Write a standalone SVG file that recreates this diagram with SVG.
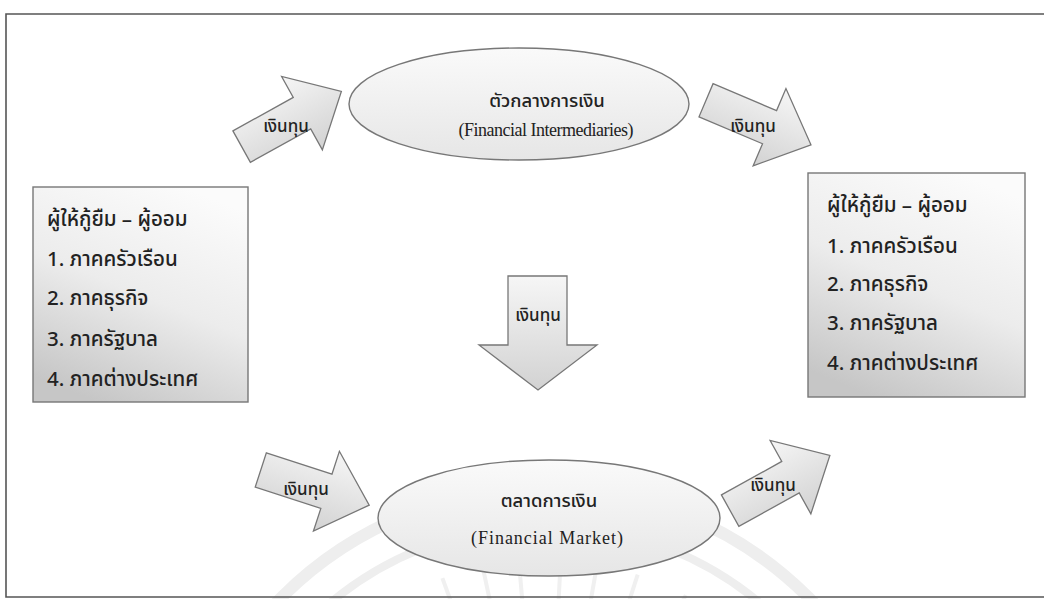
<svg xmlns="http://www.w3.org/2000/svg" xmlns:xlink="http://www.w3.org/1999/xlink" width="1044" height="599" viewBox="0 0 1044 599">
  <style>
    .frame { fill: none; stroke: #555; stroke-width: 1.6; }
    .box { fill: url(#boxGrad); stroke: #777; stroke-width: 1.4; }
    .oval { fill: url(#ovalGrad); stroke: #777; stroke-width: 1.4; }
    .arrow { fill: url(#arrowGrad); stroke: #777; stroke-width: 1.3; stroke-linejoin: miter; }
    .th { font-family: Tahoma, "Noto Sans Thai", "Noto Sans", "DejaVu Sans", sans-serif; fill: #222; font-weight: 500; }
    .en { font-family: "Liberation Serif", "Times New Roman", serif; fill: #222; }
    .boxtext { font-size: 20.5px; }
    .ovalth { font-size: 18.5px; }
    .ovalen { font-size: 18px; }
    .arrowtext { font-size: 17px; text-anchor: middle; }
    .wm { fill: none; stroke: #eeeeee; }
  </style>
  <defs>
    <linearGradient id="boxGrad" x1="0.7" y1="0" x2="0.3" y2="1">
      <stop offset="0" stop-color="#fbfbfb"/>
      <stop offset="0.5" stop-color="#ececec"/>
      <stop offset="1" stop-color="#c6c6c6"/>
    </linearGradient>
    <linearGradient id="ovalGrad" x1="0" y1="0" x2="0" y2="1">
      <stop offset="0" stop-color="#fafafa"/>
      <stop offset="1" stop-color="#e6e6e6"/>
    </linearGradient>
    <linearGradient id="arrowGrad" x1="0" y1="0" x2="0" y2="1">
      <stop offset="0" stop-color="#f6f6f6"/>
      <stop offset="1" stop-color="#d2d2d2"/>
    </linearGradient>
    <path id="diagArrow" d="M-57,-18 L12,-18 L12,-42 L57,0 L12,42 L12,18 L-57,18 Z"/>
  </defs>

  <rect width="1044" height="599" fill="#ffffff"/>

  <!-- faint watermark -->
  <g id="watermark">
    <circle class="wm" cx="545" cy="860" r="372" stroke-width="12"/>
    <circle class="wm" cx="545" cy="860" r="335" stroke-width="8"/>
    <g stroke="#f0f0f0" stroke-width="4">
      <line x1="545" y1="860" x2="545" y2="560" transform="rotate(-30 545 860)"/>
      <line x1="545" y1="860" x2="545" y2="560" transform="rotate(-20 545 860)"/>
      <line x1="545" y1="860" x2="545" y2="560" transform="rotate(-12 545 860)"/>
      <line x1="545" y1="860" x2="545" y2="560" transform="rotate(-5 545 860)"/>
      <line x1="545" y1="860" x2="545" y2="560" transform="rotate(3 545 860)"/>
      <line x1="545" y1="860" x2="545" y2="560" transform="rotate(10 545 860)"/>
      <line x1="545" y1="860" x2="545" y2="560" transform="rotate(18 545 860)"/>
      <line x1="545" y1="860" x2="545" y2="560" transform="rotate(28 545 860)"/>
    </g>
  </g>

  <!-- frame -->
  <path class="frame" d="M1044,14 L6,14 L6,597 L1044,597"/>

  <g id="lenders-left">
    <rect class="box" x="33" y="187" width="215" height="215"/>
    <text class="th boxtext" x="47" y="226">ผู้ให้กู้ยืม – ผู้ออม</text>
    <text class="th boxtext" x="47" y="266">1. ภาคครัวเรือน</text>
    <text class="th boxtext" x="47" y="305">2. ภาคธุรกิจ</text>
    <text class="th boxtext" x="47" y="346">3. ภาครัฐบาล</text>
    <text class="th boxtext" x="47" y="386">4. ภาคต่างประเทศ</text>
  </g>

  <g id="lenders-right">
    <rect class="box" x="808" y="173" width="217" height="224"/>
    <text class="th boxtext" x="827" y="212">ผู้ให้กู้ยืม – ผู้ออม</text>
    <text class="th boxtext" x="827" y="253">1. ภาคครัวเรือน</text>
    <text class="th boxtext" x="827" y="291">2. ภาคธุรกิจ</text>
    <text class="th boxtext" x="827" y="330">3. ภาครัฐบาล</text>
    <text class="th boxtext" x="827" y="370">4. ภาคต่างประเทศ</text>
  </g>

  <g id="intermediaries">
    <ellipse class="oval" cx="519" cy="104" rx="170" ry="56"/>
    <text class="th ovalth" x="547" y="107" text-anchor="middle">ตัวกลางการเงิน</text>
    <text class="en ovalen" x="546" y="136" text-anchor="middle" textLength="175">(Financial Intermediaries)</text>
  </g>

  <g id="market">
    <ellipse class="oval" cx="549" cy="518" rx="171" ry="58"/>
    <text class="th ovalth" x="549" y="507" text-anchor="middle">ตลาดการเงิน</text>
    <text class="en ovalen" x="547" y="544" text-anchor="middle" textLength="152">(Financial Market)</text>
  </g>

  <g id="connectors">
    <g id="arrow-left-top">
      <use href="#diagArrow" class="arrow" transform="translate(291.5,119) rotate(-29)"/>
      <text class="th arrowtext" x="286" y="132">เงินทุน</text>
    </g>
    <g id="arrow-right-top">
      <use href="#diagArrow" class="arrow" transform="translate(758.5,122.5) rotate(23)"/>
      <text class="th arrowtext" x="753" y="132">เงินทุน</text>
    </g>
    <g id="arrow-down">
      <path class="arrow" d="M508,276 L567,276 L567,345 L597,345 L538,390 L479,345 L508,345 Z"/>
      <text class="th arrowtext" x="538" y="321">เงินทุน</text>
    </g>
    <g id="arrow-left-bottom">
      <use href="#diagArrow" class="arrow" transform="translate(315,487.5) rotate(18)"/>
      <text class="th arrowtext" x="306" y="495">เงินทุน</text>
    </g>
    <g id="arrow-right-bottom">
      <use href="#diagArrow" class="arrow" transform="translate(780,483) rotate(-29)"/>
      <text class="th arrowtext" x="773" y="491">เงินทุน</text>
    </g>
  </g>
</svg>
